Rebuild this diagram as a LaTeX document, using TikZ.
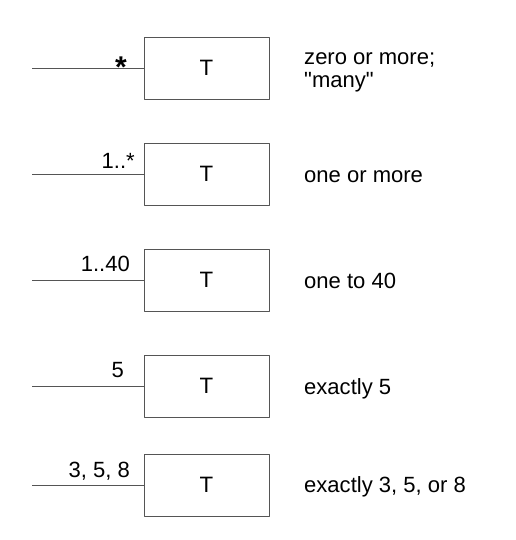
\documentclass[tikz,border=0pt]{standalone}
\usepackage{fontspec}
\setmainfont{Liberation Sans}
\usepackage{tikz}
\definecolor{linegray}{HTML}{555555}
\tikzset{
  every picture/.style={line join=round},
  classbox/.style={draw=linegray, line width=0.8pt, minimum width=3.75cm, minimum height=1.86cm, inner sep=0pt, font=\fontsize{19}{19}\selectfont},
  assoc/.style={draw=linegray, line width=0.8pt},
  mult/.style={anchor=base east, inner sep=0pt, font=\fontsize{18.8}{19}\selectfont},
  note/.style={anchor=base west, inner sep=0pt, align=left, font=\fontsize{18.8}{19.5}\selectfont},
}

\begin{document}
\begin{tikzpicture}
\useasboundingbox (0,0) rectangle (15.480,16.200);
\node[classbox] (b1) at (6.195,14.160) {T};
\coordinate (e1) at (0.960,14.160);
\draw[assoc] (e1) -- (b1.west);
\node[mult,font=\bfseries\fontsize{25.6}{26}\selectfont] (m1) at (3.810,13.860) {*};
\node[note] (n1) at (9.120,13.580) {zero or more;\\\textquotedbl many\textquotedbl};
\node[classbox] (b2) at (6.195,10.980) {T};
\coordinate (e2) at (0.960,10.980);
\draw[assoc] (e2) -- (b2.west);
\node[mult] (m2) at (4.050,11.130) {1..*};
\node[note] (n2) at (9.120,10.710) {one or more};
\node[classbox] (b3) at (6.195,7.800) {T};
\coordinate (e3) at (0.960,7.800);
\draw[assoc] (e3) -- (b3.west);
\node[mult] (m3) at (3.900,8.040) {1..40};
\node[note] (n3) at (9.120,7.530) {one to 40};
\node[classbox] (b4) at (6.195,4.620) {T};
\coordinate (e4) at (0.960,4.620);
\draw[assoc] (e4) -- (b4.west);
\node[mult] (m4) at (3.720,4.869) {5};
\node[note] (n4) at (9.120,4.350) {exactly 5};
\node[classbox] (b5) at (6.195,1.650) {T};
\coordinate (e5) at (0.960,1.650);
\draw[assoc] (e5) -- (b5.west);
\node[mult] (m5) at (3.900,1.869) {3, 5, 8};
\node[note] (n5) at (9.120,1.410) {exactly 3, 5, or 8};
\end{tikzpicture}
\end{document}
